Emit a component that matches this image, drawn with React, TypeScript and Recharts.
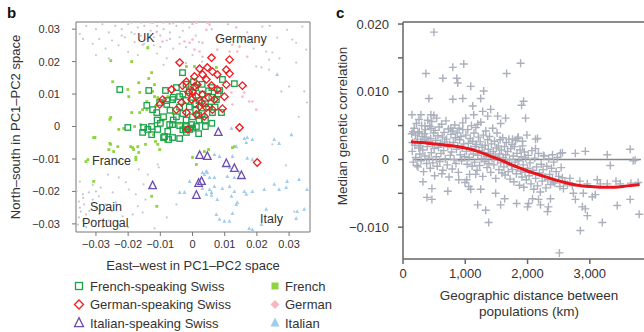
import { ReferenceLine, Scatter, ScatterChart, XAxis, YAxis } from "recharts";

const FONT = '"Liberation Sans", Arial, Helvetica, sans-serif';
const INK = "#333";

// ---- panel b: PC1-PC2 positions, in units of 0.001 ----
const pcTicks = [-30, -20, -10, 0, 10, 20, 30];
const pcTickLabels = ["−0.03", "−0.02", "−0.01", "0", "0.01", "0.02", "0.03"];

const ukDots: [number, number][] = [
    [-33, 31], [-30, 30], [-28, 31.5], [-26, 29], [-24, 31], [-22, 30], [-21, 27.5], [-20, 31.5],
    [-19, 29], [-18, 26], [-17, 30.5], [-16, 28], [-15, 31], [-14, 27], [-13, 29.5], [-12, 25],
    [-11, 31], [-10, 28], [-9, 30], [-8, 26.5], [-7, 29], [-6, 24], [-5, 31], [-4, 27.5],
    [-3, 29.5], [-2, 24.5], [-1, 30.5], [1, 28], [2, 26], [-23, 25], [-25, 26.5], [-27, 24],
    [-29, 27], [-31, 25.5], [-34, 27], [-20, 23], [-17, 22], [-14, 24], [-11, 22.5], [-8, 21],
    [-5, 20], [-19, 32], [-16, 32], [-13, 32], [-9, 32], [-6, 31.8], [-3, 32], [-12, 27.5],
    [-10, 24.5], [-15, 25.5], [-18, 28.5], [-22, 28], [-7, 27], [-4, 25.5], [0, 22], [3, 20],
    [-26, 21], [-30, 22], [-35, 28.5], [6, 30], [9, 28], [11, 31.5], [14, 26], [17, 29],
    [19, 24], [24, 31], [27, 21], [-2, 19.5], [-9, 19],
];

const otherDots: [number, number][] = [
    [19.8, 18.5], [21.4, 18.2], [23.8, 17.5], [29.4, 29.8], [31, 26.8], [32.2, 25.8], [35.3, 23.7],
    [24.8, 22.8], [26.3, 27.4], [27.6, 10.8], [30, 12.3], [34.7, 10.8], [35.6, 7.4], [32.2, 19.7],
    [22.9, 23.1], [23.8, 20.6], [21.7, 30.8], [34.1, 30.8], [24.8, -5.5], [31.6, -26.2],
    [-11.8, -31.4], [-8, -28], [-5, -24], [33, 3], [29, -12],
];

const iberiaDots: [number, number][] = [
    [-26.3, -14.8], [-22.9, -15.7], [-20.7, -17.2], [-19.8, -19.4], [-28.5, -18.8], [-30, -20],
    [-32.2, -20.3], [-34.1, -20.9], [-35.3, -23.1], [-33.7, -24], [-34.7, -26.2], [-35.3, -28],
    [-35.6, -30.2], [-33.1, -27.1], [-31, -22.5], [-29.1, -21.5], [-24.8, -20.3], [-23.8, -23.4],
    [-17.6, -20.9], [-17, -24.6], [-14.6, -22.5], [-15.5, -26.5], [-18.6, -27.1], [-21.7, -27.7],
    [-13.9, -14.8], [-13, -18.8], [-15.2, -17.8], [-10.8, -11.7], [-10.5, -12.6], [-16.7, -13.2],
    [-34, -29], [-33, -31], [-31, -29], [-30, -25], [-32, -26], [-35, -25], [-29, -27],
    [-27, -24], [-26, -29], [-28, -31], [-34, -22], [-31, -18], [-25, -26], [-23, -30],
    [-20, -31], [-36, -20], [-35, -17],
];

const germanyDots: [number, number][] = [
    [4.6, 32], [5.3, 31.4], [4.3, 29.8], [3.1, 25.8], [7.7, 23.7], [0, 26.8], [2.2, 23.1],
    [13.6, 30.5], [16.1, 26.8], [14.6, 24.6], [13.9, 23.1], [17, 21.5], [17.6, 7.7], [15.5, 9.2],
    [12.4, 6.8], [16.7, 12.3], [1.2, 32], [-0.9, 25.8], [-12.4, 32], [-7.1, 31.7], [0, 31.6],
    [7.4, 27.4], [12.4, 25.2], [0.6, 23.7], [-2.5, 26.2], [-9.3, 26.2], [3.1, 21.5], [11.5, 23.1],
    [12.1, 10.5], [16.1, 10.5], [18.6, 7.7], [19.8, 5.2], [-15.5, 25.2], [-11.1, 29.2],
];

const franceDots: [number, number][] = [
    [-13.9, 24.3], [-25.4, 20.3], [-18.9, 20], [-24.8, 13.8], [-16.7, 13.5], [-13.6, 14.8],
    [-19.8, 9.2], [-25.4, 2.8], [-12.4, 10.8], [-10.8, 8.9], [-9.3, 7.7], [-18, 0], [-16.1, 0.6],
    [-11.5, 6.2], [-15.5, 5.2], [-33.1, -10.8], [-30.7, -16.9], [-17.6, -10.2], [-10.2, -7.1],
    [-12.7, -21.5], [-11.1, -24.6], [1.2, -11.7], [0, -9.5], [5, -7.1], [-30.7, -3.4],
    [-25.4, -5.5], [-26, -7.1], [-24.5, -7.7], [-22.9, -0.9], [-19.2, -6.2], [-18.3, -7.1],
    [-17, -6.2], [-16.7, -8], [-17.6, -9.5], [-14.6, -5.5], [-11.5, -4.6], [-10.8, -5.5],
    [-12.1, -2.5], [-8.4, -4.6], [-32.5, -10.2], [-22.9, -10.8], [-21.4, -0.6], [13, -6.2],
    [12.4, -6.5], [-20.1, 11.4], [-16.4, 10.5], [-11.8, 12.9], [-11.8, 9.2], [-14.2, 5.2],
    [-16.4, 4.3], [-18.9, 4.3], [-25.7, 2.2], [-30.3, -3.4], [-25.7, -5.2], [-23.2, -6.2],
    [-18.6, -6.5], [-12.7, 16.6], [-1.9, 18.5], [-14.2, 7.7], [-7.7, 9.2], [-5.6, 7.7],
    [3.7, -7.7], [7.4, 18.2], [-6, 4], [-9, 2], [-4, 1], [0.6, 18.5],
];

const italyDots: [number, number][] = [
    [12.1, -0.6], [25.4, -4], [26.9, -5.2], [18.6, -4], [16.1, -3.7], [16.7, -4.9], [13.6, -6.2],
    [6.8, -8.6], [8.4, -9.2], [12.4, -9.2], [17, -9.8], [18.6, -10.2], [11.5, -12.6], [14.6, -14.2],
    [10.8, -15.4], [13, -15.7], [6.8, -15.7], [4.6, -14.2], [3.7, -14.8], [5.3, -15.7], [3.1, -19.1],
    [5.3, -19.4], [6.8, -18.5], [9.3, -19.1], [11.5, -18.5], [4.3, -20.9], [5.9, -21.2],
    [12.1, -21.5], [13, -20], [16.1, -20], [16.7, -20.9], [18.6, -20], [22.3, -19.4], [25.4, -17.8],
    [29.1, -18.8], [26.9, -19.4], [29.4, -16.9], [33.1, -16.3], [34.7, -25.5], [32.5, -26.2],
    [32.2, -28.3], [22.9, -25.5], [7.4, -27.1], [8.4, -28.6], [9.9, -29.2], [11.5, -29.2],
    [12.4, -26.8], [13.6, -24], [13.9, -23.4], [17.6, -31.4], [18.6, -31.8], [21.4, -30.2],
    [30.7, -2.5], [-4, -20.3], [-2.5, -20.3], [-0.9, -16.9], [3.1, -14.2], [4.3, -13.8],
    [5.9, -20.3], [7.7, -22.5], [17, -3.4], [26.3, 16], [35.6, -19.4],
];

const frSwiss: [number, number][] = [
    [-22.6, 11.4], [-13.6, 11.1], [-8.4, 11.1], [-3.1, 16.6], [0.3, 13.8], [9.3, 14.5], [13, 13.2],
    [8.4, 11.1], [7.4, 8.3], [9, 4.3], [6.2, 4.3], [1.9, 3.4], [-0.3, 0.6], [-4, 0.3], [-7.1, 0.6],
    [-1.9, 0], [1.2, 0], [-11.1, 4.3], [-14.2, 6.5], [-12.4, 5.2], [-8, 6.8], [-6.2, 8.3], [-4, 9.2],
    [-10.2, 7.4], [-20.1, -0.3], [-15.2, -0.3], [-12.7, 0], [-15.5, -1.8], [-12.7, -2.5],
    [-8.7, -3.1], [-6.2, -3.4], [-4, -3.7], [-7.7, -1.5], [-1.9, -1.8], [1.9, -2.2], [-0.9, -0.9],
    [-9, -3.4], [-7.4, -4], [-2.2, -0.9], [-6.2, 0.6], [-13.9, -0.9], [-10.8, -0.9],
    [-5, 12], [-3, 10], [-1, 11], [1, 12], [3, 10], [5, 11], [-6, 9], [-2, 8], [0, 9], [2, 8],
    [4, 7], [6, 9], [-4, 6], [-1, 6], [1, 5], [3, 4], [5, 6], [-7, 5], [-3, 4], [0, 3], [2, 2],
    [-5, 3], [-2, 2], [4, 2], [7, 6], [8, 10], [-8, 8], [-9, 3], [-6, 2], [1, 7], [-2, 13],
    [3, 13], [6, 12], [-10, 1], [-11, 2], [-3, -1], [0, -0.5], [4, 0], [6, 1],
];

const deSwiss: [number, number][] = [
    [-4, 19.7], [2.2, 17.8], [5.9, 21.2], [11.5, 20.6], [10.5, 17.5], [11.5, 16.3], [7.7, 16],
    [6.2, 16.9], [3.1, 16], [0.6, 15.4], [-1.9, 13.8], [-3.1, 12.6], [0.6, 12.3], [4.3, 14.5],
    [5.9, 12.6], [10.5, 12.9], [15.5, 12.6], [9.9, 9.2], [7.7, 11.4], [3.1, 9.8], [1.2, 9.2],
    [-0.3, 8.3], [-6.5, 11.4], [-9.3, 8.3], [-10.2, 6.8], [-3.4, 7.4], [2.2, 6.2], [4.3, 5.8],
    [6.2, 5.2], [9.3, 5.5], [3.7, 3.1], [1.2, 3.7], [-1.9, 4.3], [-5, 5.2], [-1.5, -0.9],
    [14.6, -0.3], [2.8, 7.4], [-1.2, 10.5], [0, 10.8], [5, 8.9], [20.1, -11.1], [4.6, 18.2],
    [1.5, 12.9], [6.8, 8.3],
];

const itSwiss: [number, number][] = [
    [2.2, -8.9], [4.6, -9.2], [10.5, -11.4], [13, -12.9], [15.2, -15.1], [2.8, -16.9],
    [1.9, -17.5], [-12.4, -18.2], [1.2, -21.2], [8, -1.8],
];

// ---- panel c: distance (km) vs median genetic correlation, in units of 0.001 ----
const kmTicks = [0, 1000, 2000, 3000];
const kmTickLabels = ["0", "1,000", "2,000", "3,000"];
const corrTicks = [-10, -5, 0, 5, 10, 15, 20];
const corrTickLabels = ["−0.010", "", "0", "", "0.010", "", "0.020"];

const pairsCore: [number, number][] = [
    [140, 3.8], [150, 1.2], [165, -0.4], [180, 4.6], [190, 2.1], [205, 0.3], [215, 5.3], [230, 3],
    [240, -1.1], [255, 1.7], [262, 4.1], [270, 0.8], [285, 2.6], [290, -0.2], [300, 5], [310, 3.4],
    [318, 1.4], [330, -1.8], [340, 2.9], [352, 0.5], [360, 4.4], [372, 3.3], [380, -0.6], [390, 1.9],
    [398, 5.8], [150, 2.5], [200, 3.6], [225, -0.9], [275, 2], [345, 3.8],
    [410, 2.7], [420, 0.2], [430, 4.9], [438, -1.3], [445, 3.1], [455, 1], [462, 5.6], [470, 2.2],
    [480, -0.5], [490, 3.9], [500, 1.6], [508, -2.4], [515, 4.3], [525, 2.8], [535, 0.4], [540, 6.1],
    [550, -1], [560, 3.5], [570, 1.8], [580, 4.8], [590, -0.3], [600, 2.4], [610, 0.9], [620, 5.2],
    [630, 3.3], [640, -1.6], [650, 1.3], [660, 4], [670, 2.6], [680, 0.1], [690, 5.7], [700, 3],
    [710, -0.8], [720, 1.9], [730, 4.5], [740, -2.6], [750, 2.2], [760, 0.6], [770, 3.7], [780, 1.1],
    [790, -1.4], [800, 4.2], [810, 2.5], [820, 0], [830, 5.1], [840, 3.2], [850, -0.6], [860, 1.5],
    [870, 3.9], [880, 2], [890, -1.9], [900, 4.6], [910, 2.9], [920, 0.7], [930, 3.4], [940, -0.2],
    [950, 1.7], [960, 5.4], [975, 2.3], [990, 0.4], [995, -3.4],
    [1010, 3.6], [1020, 1.2], [1030, -0.7], [1040, 4.4], [1050, 2.4], [1060, 0.3], [1070, -2.2],
    [1080, 3.1], [1090, 1.6], [1100, 5], [1110, -1], [1120, 2.7], [1130, 0.8], [1140, 3.9],
    [1150, -0.4], [1160, 1.9], [1170, 4.7], [1180, 2.2], [1190, -1.6], [1200, 0.6], [1210, 3.3],
    [1220, 1.3], [1230, -0.9], [1240, 2.6], [1250, 5.5], [1260, 0.1], [1270, 1.8], [1280, -2.5],
    [1290, 3.6], [1300, 1], [1310, -0.3], [1320, 2.1], [1330, 4.2], [1340, 0.4], [1350, -1.2],
    [1360, 2.9], [1370, 1.5], [1380, -0.6], [1390, 3.4], [1400, 0.9], [1410, -1.9], [1420, 2.3],
    [1430, 0.2], [1440, 4.6], [1450, 1.2], [1460, -0.8], [1470, 2.7], [1480, 0.5], [1490, -2.8],
    [1500, 1.7], [1510, 3.9], [1520, -0.1], [1530, 2], [1540, -1.5], [1550, 0.8], [1560, 2.9],
    [1570, -0.5], [1580, 1.4], [1590, -2], [1600, 3.2],
    [1610, 0.3], [1620, -1.1], [1630, 1.9], [1640, -2.3], [1650, 0.7], [1660, 2.5], [1670, -0.6],
    [1680, 1.2], [1690, -1.8], [1700, 3], [1710, 0], [1720, -2.9], [1730, 1.6], [1740, -0.9],
    [1750, 2.2], [1760, -1.5], [1770, 0.5], [1780, -3.3], [1790, 1.9], [1800, -0.4], [1810, 2.8],
    [1820, -2.1], [1830, 0.9], [1840, -1.2], [1850, 3.3], [1860, -0.2], [1870, -3.8], [1880, 1.4],
    [1890, -1.7], [1900, 0.4], [1910, -2.6], [1920, 2], [1930, -0.8], [1940, -4.1], [1950, 1.1],
    [1960, -1.9], [1970, 0.2], [1980, -3], [1990, 3.6], [2000, -1.3],
    [2010, 0.6], [2025, -2.4], [2040, -0.5], [2055, -3.6], [2070, 1.3], [2085, -1.6], [2100, -4.4],
    [2115, 0.2], [2130, -2.8], [2145, -1.1], [2160, -3.9], [2175, 0.9], [2190, -2], [2205, -4.8],
    [2220, -0.7], [2235, -3.2], [2250, -1.5], [2265, 0.5], [2280, -2.6], [2295, -4.2], [2310, -1],
    [2325, -3], [2340, 0.1], [2355, -2.2], [2370, -3.7], [2385, -1.3], [2400, -2.9], [2420, -0.4],
    [2440, -3.5], [2460, -1.8], [2480, 0.3], [2500, -2.5], [2520, -4], [2540, -1.2], [2560, -2.7],
    [2600, -3.4], [2680, -2.8], [2720, -3.9], [2840, -3.2], [2960, -3.6], [3120, -3], [3420, -3.2],
    [3660, -3.5],
];

const pairsSpread: [number, number][] = [
    [496, 18.8], [368, 12.7], [800, 13.6], [976, 14.1], [640, 12], [864, 12], [880, 11.3],
    [1088, 10.8], [1296, 10.1], [1664, 12.7], [1888, 14.2], [416, 9], [800, 8.9], [960, 9],
    [1248, 9], [1120, 7.9], [1936, 8.6], [1904, 8], [1968, 6.1], [144, 6.6], [288, 6.6], [448, 6.6],
    [496, 6.5], [256, 5.9], [160, 4.1], [240, 3.9], [352, 5], [448, 4.6], [1008, 6.1], [1136, 6.6],
    [1280, 7.1], [1408, 7.4], [1360, 6.4], [1520, 6.4], [1648, 6.1], [1568, 5.3], [768, 4.6],
    [960, 4.4], [1200, 5.2], [2160, 3.1], [2128, 1.6], [2256, 0.6], [2400, 0.7], [2528, 0.9],
    [2768, 0.9], [2928, 1.2], [3280, 0.7], [3328, -0.9], [3648, 1.5], [3696, -0.2], [1760, 3],
    [1840, 3.1], [1920, 2.7], [2128, 3], [2560, 1], [3728, -0.1],
    [2736, -5], [2896, -5], [3040, -5.5], [2768, -5.9], [2928, -7.3], [2880, -7], [2960, -8.3],
    [3200, -9.3], [3440, -6.8], [3648, -5.9], [3792, -8.1], [2848, -10.5], [2512, -13.8],
    [2320, -7.7], [2336, -7], [2208, -6.7], [2016, -6.5], [2000, -7], [2176, -5.9], [2368, -5.8],
    [2080, -5.8], [3280, -3.6], [3488, -3.6], [3776, -3.4], [3168, -3.6], [3088, -5.2],
    [2576, -4.3], [2640, -3.7], [2416, -3.3], [320, -3.3], [464, -4.3], [384, -5.6], [464, -5.9],
    [720, -4.7], [896, -3], [1056, -4], [1088, -4.4], [1248, -4.4], [1200, -6.7], [1328, -7.5],
    [1376, -9.3], [1488, -5], [1568, -6.7], [1632, -5.8], [1824, -6.5], [1024, -3], [624, -2.1],
    [1168, -2.2],
];

const smoothFit: [number, number][] = [
    [128, 2.6], [400, 2.4], [700, 2.1], [1000, 1.7], [1200, 1.2], [1400, 0.5], [1600, -0.2],
    [1800, -1], [2000, -1.7], [2200, -2.3], [2400, -2.9], [2600, -3.4], [2800, -3.8], [3000, -4],
    [3200, -4.1], [3400, -4.1], [3600, -3.9], [3800, -3.7],
];

const pts = (a: [number, number][]) => a.map(([x, y]) => ({ x, y }));

const dot = (color: string, r: number) => (p: any) =>
    <circle cx={p.cx} cy={p.cy} r={r} fill={color} />;

const filledSquare = (color: string, s: number) => (p: any) =>
    <rect x={p.cx - s / 2} y={p.cy - s / 2} width={s} height={s} fill={color} />;

const triangle = (color: string, s: number, hollow: boolean) => (p: any) => (
    <path
        d={`M${p.cx},${p.cy - s * 0.6}L${p.cx + s / 2},${p.cy + s * 0.4}L${p.cx - s / 2},${p.cy + s * 0.4}Z`}
        fill={hollow ? "none" : color}
        stroke={hollow ? color : "none"}
        strokeWidth={1.3}
    />
);

const hollowSquare = (color: string, s: number) => (p: any) =>
    <rect x={p.cx - s / 2} y={p.cy - s / 2} width={s} height={s} fill="none" stroke={color} strokeWidth={1.3} />;

const diamond = (color: string, s: number, hollow: boolean) => (p: any) => (
    <path
        d={`M${p.cx},${p.cy - s / 2}L${p.cx + s / 2},${p.cy}L${p.cx},${p.cy + s / 2}L${p.cx - s / 2},${p.cy}Z`}
        fill={hollow ? "none" : color}
        stroke={hollow ? color : "none"}
        strokeWidth={1.3}
    />
);

const cross = (p: any) => (
    <path
        d={`M${p.cx - 4},${p.cy}H${p.cx + 4}M${p.cx},${p.cy - 4}V${p.cy + 4}`}
        stroke="#aab0bc"
        strokeWidth={1.4}
    />
);

const GREEN = "#1aa34a";
const RED = "#f01a1e";
const PURPLE = "#6c4db0";
const LIME = "#8ed43c";
const PINK = "#f6b9c4";
const BLUE = "#9fcdee";
const GRAY = "#c5c8d3";

const pcLabel = (v: number) => pcTickLabels[pcTicks.indexOf(v)] ?? "";
const kmLabel = (v: number) => kmTickLabels[kmTicks.indexOf(v)] ?? "";
const corrLabel = (v: number) => corrTickLabels[corrTicks.indexOf(v)] ?? "";

const legendRows = [
    { label: "French-speaking Swiss", shape: "sqHollow", color: GREEN },
    { label: "German-speaking Swiss", shape: "diaHollow", color: RED },
    { label: "Italian-speaking Swiss", shape: "triHollow", color: PURPLE },
];
const legendRows2 = [
    { label: "French", shape: "sq", color: LIME },
    { label: "German", shape: "dia", color: PINK },
    { label: "Italian", shape: "tri", color: BLUE },
];

function LegendMark({ shape, color, cx, cy }: { shape: string; color: string; cx: number; cy: number }) {
    const p = { cx, cy };
    if (shape === "sqHollow") return hollowSquare(color, 7)(p);
    if (shape === "diaHollow") return diamond(color, 9, true)(p);
    if (shape === "triHollow") return triangle(color, 9, true)(p);
    if (shape === "sq") return filledSquare(color, 7)(p);
    if (shape === "dia") return diamond(color, 9, false)(p);
    return triangle(color, 9, false)(p);
}

export default function App() {
    const axisStroke = "#777";

    return (
        <div style={{ position: "absolute", left: 0, top: 0, width: 644, height: 332, overflow: "hidden", background: "#fff", fontFamily: FONT }}>

            <div style={{ position: "absolute", left: 0, top: 0 }}>
                <ScatterChart width={320} height={262} margin={{ top: 22, right: 10, bottom: 0, left: 16 }}>
                    <XAxis
                        type="number"
                        dataKey="x"
                        domain={[-36.2, 36.5]}
                        ticks={pcTicks}
                        tickFormatter={pcLabel}
                        allowDataOverflow
                        height={30}
                        stroke={axisStroke}
                        tickSize={4}
                        tickMargin={4}
                        tick={{ fill: INK, fontSize: 11, fontFamily: FONT }}
                    />
                    <YAxis
                        type="number"
                        dataKey="y"
                        domain={[-32.5, 32.2]}
                        ticks={pcTicks}
                        tickFormatter={pcLabel}
                        allowDataOverflow
                        width={60}
                        stroke={axisStroke}
                        tickSize={4}
                        tickMargin={12}
                        tick={{ fill: INK, fontSize: 11, fontFamily: FONT }}
                    />
                    <ReferenceLine x={36.5} stroke={axisStroke} />
                    <ReferenceLine y={32.2} stroke={axisStroke} />

                    <Scatter data={pts(ukDots)} shape={dot(GRAY, 1.1)} isAnimationActive={false} />
                    <Scatter data={pts(otherDots)} shape={dot(GRAY, 1.1)} isAnimationActive={false} />
                    <Scatter data={pts(iberiaDots)} shape={dot(GRAY, 1.1)} isAnimationActive={false} />
                    <Scatter data={pts(germanyDots)} shape={dot(PINK, 1.3)} isAnimationActive={false} />
                    <Scatter data={pts(franceDots)} shape={filledSquare(LIME, 2.8)} isAnimationActive={false} />
                    <Scatter data={pts(italyDots)} shape={triangle(BLUE, 3.8, false)} isAnimationActive={false} />
                    <Scatter data={pts(frSwiss)} shape={hollowSquare(GREEN, 5.5)} isAnimationActive={false} />
                    <Scatter data={pts(deSwiss)} shape={diamond(RED, 7.5, true)} isAnimationActive={false} />
                    <Scatter data={pts(itSwiss)} shape={triangle(PURPLE, 7.5, true)} isAnimationActive={false} />
                </ScatterChart>
            </div>

            <div style={{ position: "absolute", left: 330, top: 0 }}>
                <ScatterChart width={314} height={281} margin={{ top: 22, right: 0, bottom: 0, left: 0 }}>
                    <XAxis
                        type="number"
                        dataKey="x"
                        domain={[0, 3870]}
                        ticks={kmTicks}
                        tickFormatter={kmLabel}
                        allowDataOverflow
                        height={22}
                        stroke="#666"
                        strokeWidth={1.5}
                        tickSize={5}
                        tickMargin={5}
                        tick={{ fill: INK, fontSize: 13, fontFamily: FONT }}
                    />
                    <YAxis
                        type="number"
                        dataKey="y"
                        domain={[-14.7, 20.3]}
                        ticks={corrTicks}
                        tickFormatter={corrLabel}
                        allowDataOverflow
                        width={73}
                        stroke="#666"
                        strokeWidth={1.5}
                        tickSize={5}
                        tickMargin={9}
                        tick={{ fill: INK, fontSize: 13, fontFamily: FONT }}
                    />
                    <ReferenceLine y={20.3} stroke="#666" strokeWidth={1.5} />

                    <Scatter data={pts(pairsCore)} shape={cross} isAnimationActive={false} />
                    <Scatter data={pts(pairsSpread)} shape={cross} isAnimationActive={false} />
                    <ReferenceLine segment={[{ x: 170, y: 0 }, { x: 3820, y: 0 }]} stroke="#858585" strokeWidth={1.5} />
                    <Scatter
                        data={pts(smoothFit)}
                        line={{ stroke: "#e8131b", strokeWidth: 3 }}
                        lineJointType="monotoneX"
                        shape={() => <g />}
                        isAnimationActive={false}
                    />
                </ScatterChart>
            </div>

            <svg width={644} height={332} style={{ position: "absolute", left: 0, top: 0, pointerEvents: "none" }} fontFamily={FONT}>
                <text x={7} y={18} fontSize={15} fontWeight="bold" fill="#111">b</text>
                <text x={336} y={18} fontSize={15} fontWeight="bold" fill="#111">c</text>

                <g fontSize={12.5} fill={INK}>
                    <text x={146} y={42} textAnchor="middle">UK</text>
                    <text x={241} y={43} textAnchor="middle">Germany</text>
                    <text x={92} y={165}>France</text>
                    <text x={90} y={211}>Spain</text>
                    <text x={82} y={227}>Portugal</text>
                    <text x={260} y={223}>Italy</text>
                </g>

                <text x={193} y={270} textAnchor="middle" fontSize={13} fill={INK}>East–west in PC1–PC2 space</text>
                <text transform="translate(20,127) rotate(-90)" textAnchor="middle" fontSize={13} fill={INK}>North–south in PC1–PC2 space</text>

                <text transform="translate(347,126) rotate(-90)" textAnchor="middle" fontSize={13.5} fill={INK}>Median genetic correlation</text>
                <text x={529} y={300} textAnchor="middle" fontSize={13.5} fill={INK}>Geographic distance between</text>
                <text x={529} y={316} textAnchor="middle" fontSize={13.5} fill={INK}>populations (km)</text>

                {legendRows.map((r, i) => (
                    <g key={r.label}>
                        <LegendMark shape={r.shape} color={r.color} cx={79} cy={286 + i * 18.5} />
                        <text x={90} y={290.5 + i * 18.5} fontSize={13} fill={INK}>{r.label}</text>
                    </g>
                ))}
                {legendRows2.map((r, i) => (
                    <g key={r.label}>
                        <LegendMark shape={r.shape} color={r.color} cx={275} cy={286 + i * 18.5} />
                        <text x={285} y={290.5 + i * 18.5} fontSize={13} fill={INK}>{r.label}</text>
                    </g>
                ))}
            </svg>
        </div>
    );
}
